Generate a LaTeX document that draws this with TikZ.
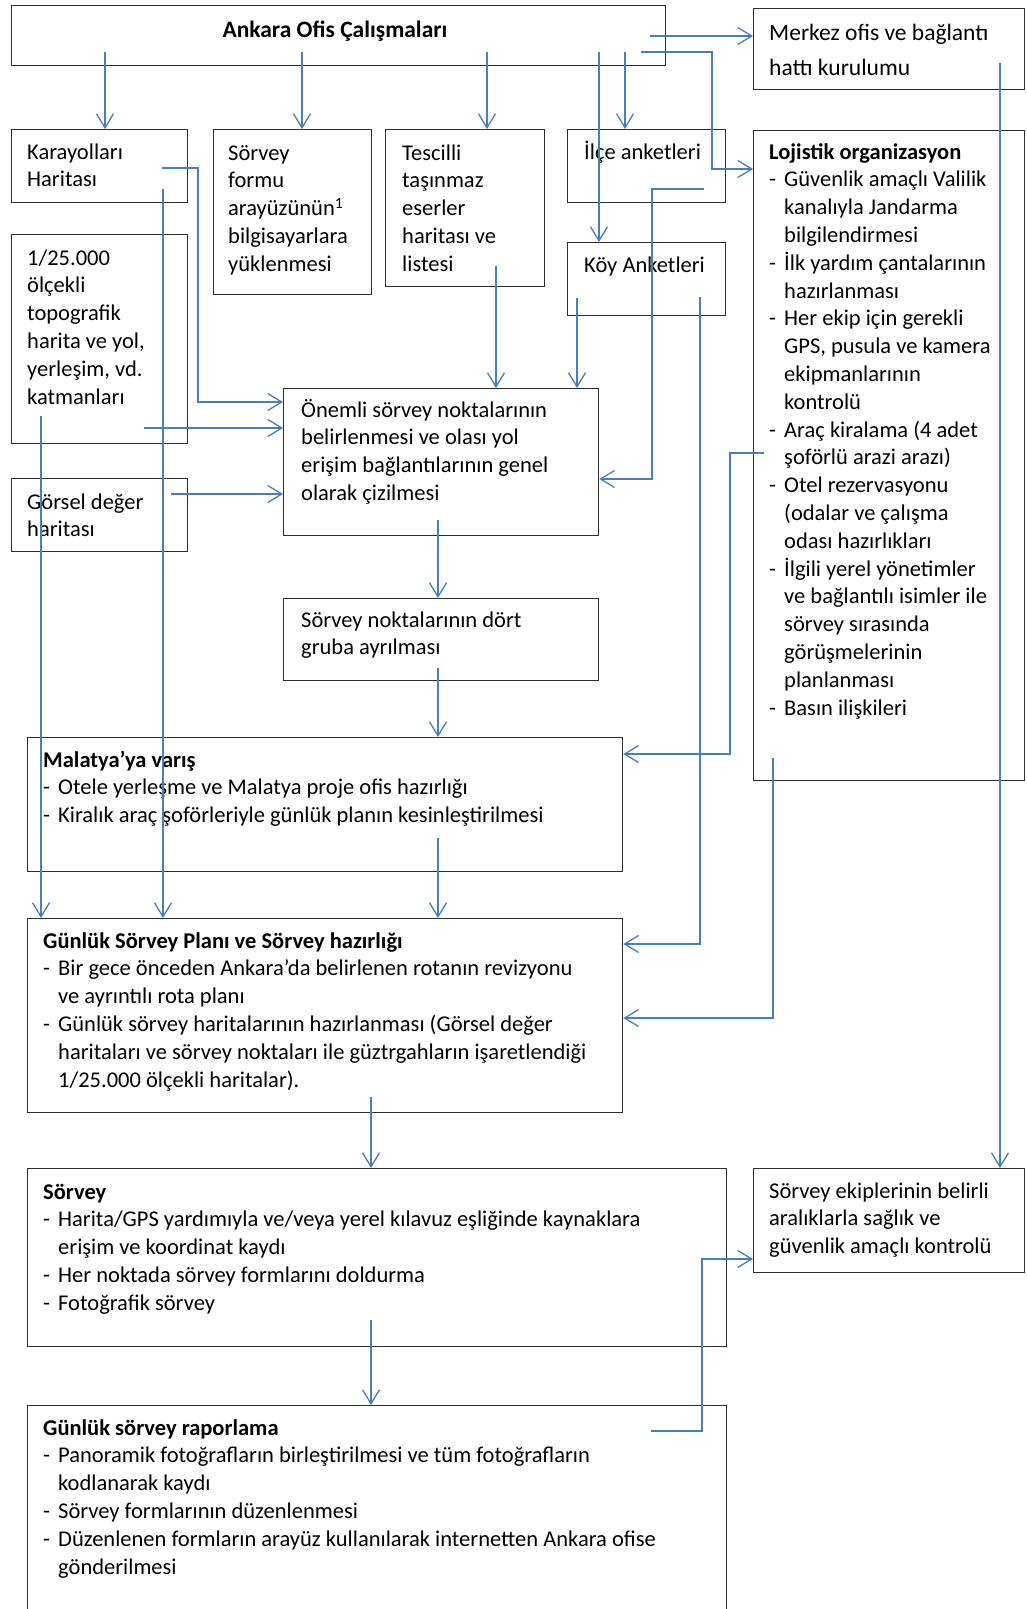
\documentclass[tikz,border=0pt]{standalone}
\usepackage{fontspec}
\setmainfont{Carlito}
\usetikzlibrary{arrows.meta}
\definecolor{conn}{HTML}{4A7EBB}
\newcommand\itm{\makebox[15pt][l]{-}}
\newcommand\cnt{\hspace*{15pt}}
\newcommand\lines[1]{\begin{tabular}[t]{@{}l@{}}#1\end{tabular}}
\begin{document}
\begin{tikzpicture}[x=1pt,y=-1pt,
  box/.style={draw=black!82, line width=1.3pt, anchor=north west, inner sep=0pt},
  txt/.style={anchor=base west, inner sep=0pt, font=\fontsize{22.5pt}{27.8pt}\selectfont},
  cn/.style={draw=conn, line width=1.3pt, -{Straight Barb[length=14pt,width=17pt]}},
]
\useasboundingbox (0,0) rectangle (1026,1609);
\fill[white] (0,0) rectangle (1026,1609);

% boxes
\node[box, minimum width=654pt, minimum height=60pt] (ankara) at (11,5) {};
\node[box, minimum width=271pt, minimum height=81pt] (merkez) at (753,8) {};
\node[box, minimum width=176pt, minimum height=73pt] (kara) at (11,129) {};
\node[box, minimum width=158pt, minimum height=165pt] (form) at (213,129) {};
\node[box, minimum width=159pt, minimum height=157pt] (tescil) at (385,129) {};
\node[box, minimum width=158pt, minimum height=73pt] (ilce) at (567,129) {};
\node[box, minimum width=158pt, minimum height=73pt] (koy) at (567,242) {};
\node[box, minimum width=271pt, minimum height=650pt] (loj) at (753,130) {};
\node[box, minimum width=176pt, minimum height=209pt] (topo) at (11,234) {};
\node[box, minimum width=176pt, minimum height=73pt] (gorsel) at (11,478) {};
\node[box, minimum width=315pt, minimum height=147pt] (onemli) at (283,388) {};
\node[box, minimum width=315pt, minimum height=82pt] (dort) at (283,598) {};
\node[box, minimum width=595pt, minimum height=134pt] (malatya) at (27,737) {};
\node[box, minimum width=595pt, minimum height=194pt] (plan) at (27,918) {};
\node[box, minimum width=699pt, minimum height=178pt] (sorvey) at (27,1168) {};
\node[box, minimum width=271pt, minimum height=104pt] (ekip) at (753,1168) {};
\node[box, minimum width=699pt, minimum height=230pt] (rapor) at (27,1405) {};

% texts
\node[txt, anchor=base, font=\fontsize{23.5pt}{28pt}\selectfont\bfseries] (tankara) at (335,37) {Ankara Ofis Çalışmaları};
\node[txt, font=\fontsize{23.5pt}{35pt}\selectfont] (tmerkez) at (769,40) {\lines{Merkez ofis ve bağlantı\\hattı kurulumu}};
\node[txt] (tkara) at (27,159) {\lines{Karayolları\\Haritası}};
\node[txt] (tform) at (228,160) {\lines{Sörvey\\formu\\arayüzünün\textsuperscript{1}\\bilgisayarlara\\yüklenmesi}};
\node[txt] (ttescil) at (402,160) {\lines{Tescilli\\taşınmaz\\eserler\\haritası ve\\listesi}};
\node[txt] (tilce) at (584,159) {İlçe anketleri};
\node[txt] (tkoy) at (584,272) {Köy Anketleri};
\node[txt] (tloj) at (769,159) {\lines{\textbf{Lojistik organizasyon}\\
\itm Güvenlik amaçlı Valilik\\
\cnt kanalıyla Jandarma\\
\cnt bilgilendirmesi\\
\itm İlk yardım çantalarının\\
\cnt hazırlanması\\
\itm Her ekip için gerekli\\
\cnt GPS, pusula ve kamera\\
\cnt ekipmanlarının\\
\cnt kontrolü\\
\itm Araç kiralama (4 adet\\
\cnt şoförlü arazi arazı)\\
\itm Otel rezervasyonu\\
\cnt (odalar ve çalışma\\
\cnt odası hazırlıkları\\
\itm İlgili yerel yönetimler\\
\cnt ve bağlantılı isimler ile\\
\cnt sörvey sırasında\\
\cnt görüşmelerinin\\
\cnt planlanması\\
\itm Basın ilişkileri}};
\node[txt] (ttopo) at (27,265) {\lines{1/25.000\\ölçekli\\topografik\\harita ve yol,\\yerleşim, vd.\\katmanları}};
\node[txt] (tgorsel) at (27,509) {\lines{Görsel değer\\haritası}};
\node[txt] (tonemli) at (301,417) {\lines{Önemli sörvey noktalarının\\belirlenmesi ve olası yol\\erişim bağlantılarının genel\\olarak çizilmesi}};
\node[txt] (tdort) at (301,627) {\lines{Sörvey noktalarının dört\\gruba ayrılması}};
\node[txt] (tmalatya) at (43,767) {\lines{\textbf{Malatya’ya varış}\\
\itm Otele yerleşme ve Malatya proje ofis hazırlığı\\
\itm Kiralık araç şoförleriyle günlük planın kesinleştirilmesi}};
\node[txt] (tplan) at (43,948) {\lines{\textbf{Günlük Sörvey Planı ve Sörvey hazırlığı}\\
\itm Bir gece önceden Ankara’da belirlenen rotanın revizyonu\\
\cnt ve ayrıntılı rota planı\\
\itm Günlük sörvey haritalarının hazırlanması (Görsel değer\\
\cnt haritaları ve sörvey noktaları ile güztrgahların işaretlendiği\\
\cnt 1/25.000 ölçekli haritalar).}};
\node[txt] (tsorvey) at (43,1199) {\lines{\textbf{Sörvey}\\
\itm Harita/GPS yardımıyla ve/veya yerel kılavuz eşliğinde kaynaklara\\
\cnt erişim ve koordinat kaydı\\
\itm Her noktada sörvey formlarını doldurma\\
\itm Fotoğrafik sörvey}};
\node[txt] (tekip) at (769,1198) {\lines{Sörvey ekiplerinin belirli\\aralıklarla sağlık ve\\güvenlik amaçlı kontrolü}};
\node[txt] (trapor) at (43,1435) {\lines{\textbf{Günlük sörvey raporlama}\\
\itm Panoramik fotoğrafların birleştirilmesi ve tüm fotoğrafların\\
\cnt kodlanarak kaydı\\
\itm Sörvey formlarının düzenlenmesi\\
\itm Düzenlenen formların arayüz kullanılarak internetten Ankara ofise\\
\cnt gönderilmesi}};

% connectors
\draw[cn] (105,52) -- (kara.north -| 105,0);
\draw[cn] (302,52) -- (form.north -| 302,0);
\draw[cn] (487,52) -- (tescil.north -| 487,0);
\draw[cn] (625,52) -- (ilce.north -| 625,0);
\draw[cn] (599,52) -- (koy.north -| 599,0);
\draw[cn] (650,36) -- (merkez.west |- 0,36);
\draw[cn] (641,52) -- (712,52) -- (712,169) -- (loj.west |- 0,169);
\draw[cn] (162,168) -- (198,168) -- (198,402) -- (onemli.west |- 0,402);
\draw[cn] (163,189) -- (plan.north -| 163,0);
\draw[cn] (144,428) -- (onemli.west |- 0,428);
\draw[cn] (41,416) -- (plan.north -| 41,0);
\draw[cn] (171,494) -- (onemli.west |- 0,494);
\draw[cn] (496,266) -- (onemli.north -| 496,0);
\draw[cn] (577,298) -- (onemli.north -| 577,0);
\draw[cn] (704,189) -- (652,189) -- (652,479) -- (onemli.east |- 0,479);
\draw[cn] (700,297) -- (700,944) -- (plan.east |- 0,944);
\draw[cn] (764,453) -- (730,453) -- (730,754) -- (malatya.east |- 0,754);
\draw[cn] (773,758) -- (773,1018) -- (plan.east |- 0,1018);
\draw[cn] (1000,63) -- (ekip.north -| 1000,0);
\draw[cn] (438,520) -- (dort.north -| 438,0);
\draw[cn] (438,668) -- (malatya.north -| 438,0);
\draw[cn] (438,838) -- (plan.north -| 438,0);
\draw[cn] (371,1097) -- (sorvey.north -| 371,0);
\draw[cn] (371,1320) -- (rapor.north -| 371,0);
\draw[cn] (651,1431) -- (702,1431) -- (702,1259) -- (ekip.west |- 0,1259);
\end{tikzpicture}
\end{document}
